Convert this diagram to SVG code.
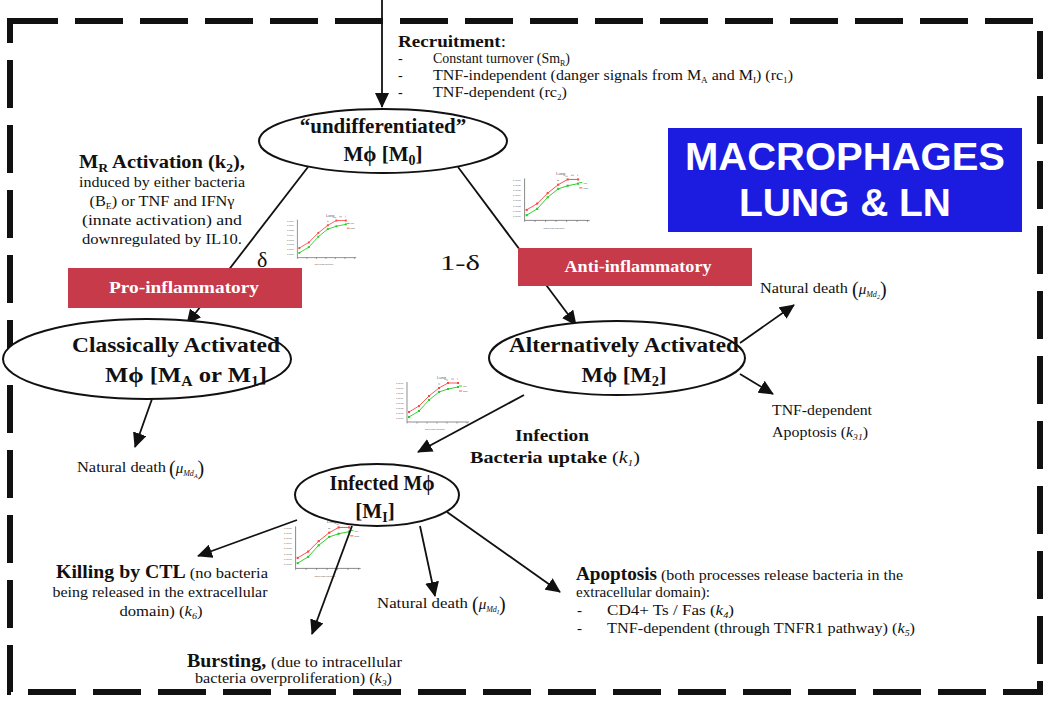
<svg xmlns="http://www.w3.org/2000/svg" xmlns:xlink="http://www.w3.org/1999/xlink" width="1050" height="706" viewBox="0 0 1050 706">
<style>
.s{font-family:"Liberation Serif","Times New Roman",serif;fill:#111}
.b{font-weight:bold}
.i{font-style:italic}
.ell{fill:#fff;stroke:#111;stroke-width:2}
.con{stroke:#111;stroke-width:1.8;fill:none}
.box{fill:#c73a4a}
.boxt{font-family:"Liberation Serif",serif;font-weight:bold;fill:#fff;font-size:16px}
.ct{font-family:"Liberation Sans",Arial,sans-serif;fill:#555}
</style>
<defs>
<marker id="ah" markerUnits="userSpaceOnUse" markerWidth="16" markerHeight="14" refX="14" refY="7" orient="auto">
<path d="M0,0 L15,7 L0,14 Z" fill="#111"/>
</marker>
<g id="chart">
<text class="ct" x="42" y="5" font-size="4">Lung</text>
<g font-size="2.4" class="ct">
<text x="1" y="10">1.0e07</text><text x="1" y="15">1.0e06</text><text x="1" y="20">1.0e05</text><text x="1" y="25">1.0e04</text><text x="1" y="30">1.0e03</text><text x="1" y="35">1.0e02</text><text x="1" y="40">1.0e01</text><text x="1" y="45">1.0e00</text>
<text x="30" y="56">days post infection</text>
<text x="68" y="13">low</text><text x="68" y="18">high</text>
</g>
<path d="M12,8 V48 H74" stroke="#444" stroke-width="0.6" fill="none"/>
<path d="M12,48 v1.5 M22,48 v1.5 M32,48 v1.5 M42,48 v1.5 M52,48 v1.5 M62,48 v1.5 M72,48 v1.5" stroke="#444" stroke-width="0.5"/>
<polyline points="14,38 24,32 34,22 44,14 53,9 63,9" fill="none" stroke="#f44" stroke-width="0.9"/>
<polyline points="14,43 24,37 34,26 44,18 53,15 63,13" fill="none" stroke="#2c2" stroke-width="0.9"/>
<g fill="#2c2"><rect x="13" y="42" width="2" height="2"/><rect x="23" y="36" width="2" height="2"/><rect x="33" y="25" width="2" height="2"/><rect x="43" y="17" width="2" height="2"/><rect x="52" y="14" width="2" height="2"/><rect x="62" y="12" width="2" height="2"/></g>
<g fill="#f44"><rect x="13" y="37" width="2" height="2"/><rect x="23" y="31" width="2" height="2"/><rect x="33" y="21" width="2" height="2"/><rect x="43" y="13" width="2" height="2"/><rect x="52" y="8" width="2" height="2"/><rect x="62" y="8" width="2" height="2"/></g>
<path d="M64,12 h3" stroke="#2c2" stroke-width="0.9"/><path d="M64,17 h3" stroke="#f44" stroke-width="0.9"/>
<path d="M43,10 h2 M51,6 h2 M56,5 h3 M62,5 h1" stroke="#666" stroke-width="0.5"/>
</g>
</defs>
<rect width="1050" height="706" fill="#fff"/>
<rect x="10" y="21" width="1030" height="671" fill="none" stroke="#111" stroke-width="6" stroke-dasharray="48 17"/>

<g id="charts">
<use xlink:href="#chart" transform="translate(286,212) scale(0.95)"/>
<use xlink:href="#chart" transform="translate(512,170) scale(1.05)"/>
<use xlink:href="#chart" transform="translate(395,374) scale(1.0)"/>
<use xlink:href="#chart" transform="translate(283,518) scale(1.05)"/>
</g>

<g id="connectors">
<line class="con" x1="382" y1="0" x2="382" y2="107" marker-end="url(#ah)"/>
<line class="con" x1="308" y1="167" x2="187" y2="324" marker-end="url(#ah)"/>
<line class="con" x1="458" y1="167" x2="576" y2="325" marker-end="url(#ah)"/>
<line class="con" x1="740" y1="343" x2="794" y2="305" marker-end="url(#ah)"/>
<line class="con" x1="740" y1="374" x2="773" y2="394" marker-end="url(#ah)"/>
<line class="con" x1="152" y1="399" x2="135" y2="447" marker-end="url(#ah)"/>
<line class="con" x1="524" y1="395" x2="418" y2="452" marker-end="url(#ah)"/>
<line class="con" x1="297" y1="520" x2="198" y2="556" marker-end="url(#ah)"/>
<line class="con" x1="352" y1="526" x2="312" y2="634" marker-end="url(#ah)"/>
<line class="con" x1="420" y1="526" x2="435" y2="596" marker-end="url(#ah)"/>
<line class="con" x1="447" y1="512" x2="560" y2="592" marker-end="url(#ah)"/>
</g>

<g id="recruitment">
<text class="s b" x="398" y="47" font-size="17" textLength="108" lengthAdjust="spacingAndGlyphs">Recruitment<tspan font-weight="normal">:</tspan></text>
<text class="s" x="398" y="63" font-size="14">-</text>
<text class="s" x="398" y="80" font-size="14">-</text>
<text class="s" x="398" y="97" font-size="14">-</text>
<text class="s" x="433" y="63" font-size="14" textLength="137" lengthAdjust="spacingAndGlyphs">Constant turnover (Sm<tspan font-size="8" dy="3">R</tspan><tspan dy="-3">)</tspan></text>
<text class="s" x="433" y="80" font-size="14" textLength="360" lengthAdjust="spacingAndGlyphs">TNF-independent (danger signals from M<tspan font-size="8" dy="3">A</tspan><tspan dy="-3"> and M</tspan><tspan font-size="8" dy="3">I</tspan><tspan dy="-3">)  (rc</tspan><tspan font-size="8" dy="3">1</tspan><tspan dy="-3">)</tspan></text>
<text class="s" x="433" y="97" font-size="14" textLength="134" lengthAdjust="spacingAndGlyphs">TNF-dependent  (rc<tspan font-size="8" dy="3">2</tspan><tspan dy="-3">)</tspan></text>
</g>

<g id="node-undiff">
<ellipse class="ell" cx="383" cy="141" rx="124" ry="32"/>
<text class="s b" x="383" y="133" font-size="21" text-anchor="middle">“undifferentiated”</text>
<text class="s b" x="383" y="161" font-size="21" text-anchor="middle">Mϕ [M<tspan font-size="14" dy="4">0</tspan><tspan dy="-4">]</tspan></text>
</g>

<g id="title">
<rect x="668" y="128" width="354" height="104" fill="#1c1ce0"/>
<text x="845" y="170" font-family="Liberation Sans,Arial,sans-serif" font-weight="bold" font-size="39" fill="#fff" text-anchor="middle" textLength="320" lengthAdjust="spacingAndGlyphs">MACROPHAGES</text>
<text x="845" y="216" font-family="Liberation Sans,Arial,sans-serif" font-weight="bold" font-size="39" fill="#fff" text-anchor="middle" textLength="212" lengthAdjust="spacingAndGlyphs">LUNG &amp; LN</text>
</g>

<g id="activation-text">
<text class="s b" x="162" y="168" font-size="18" text-anchor="middle" textLength="166" lengthAdjust="spacingAndGlyphs">M<tspan font-size="12" dy="4">R</tspan><tspan dy="-4"> Activation (k</tspan><tspan font-size="12" dy="4">2</tspan><tspan dy="-4">),</tspan></text>
<text class="s" x="162" y="187" font-size="15" text-anchor="middle" textLength="166" lengthAdjust="spacingAndGlyphs">induced by either bacteria</text>
<text class="s" x="162" y="206" font-size="15" text-anchor="middle" textLength="145" lengthAdjust="spacingAndGlyphs">(B<tspan font-size="9" dy="3">E</tspan><tspan dy="-3">)  or TNF and IFNγ</tspan></text>
<text class="s" x="162" y="225" font-size="15" text-anchor="middle" textLength="160" lengthAdjust="spacingAndGlyphs">(innate activation) and</text>
<text class="s" x="162" y="244" font-size="15" text-anchor="middle" textLength="160" lengthAdjust="spacingAndGlyphs">downregulated by IL10.</text>
</g>

<g id="pro">
<rect class="box" x="68" y="268" width="234" height="40"/>
<text class="boxt" x="184" y="293" text-anchor="middle" textLength="150" lengthAdjust="spacingAndGlyphs">Pro-inflammatory</text>
<text class="s" x="257" y="267" font-size="22">δ</text>
</g>
<g id="anti">
<rect class="box" x="518" y="248" width="234" height="38"/>
<text class="boxt" x="638" y="272" text-anchor="middle" textLength="147" lengthAdjust="spacingAndGlyphs">Anti-inflammatory</text>
<text class="s" x="440" y="270" font-size="21" textLength="40" lengthAdjust="spacingAndGlyphs">1-δ</text>
</g>

<g id="node-classical">
<ellipse class="ell" cx="147" cy="359" rx="144" ry="40"/>
<text class="s b" x="176" y="352" font-size="22" text-anchor="middle" textLength="208" lengthAdjust="spacingAndGlyphs">Classically Activated</text>
<text class="s b" x="186" y="382" font-size="22" text-anchor="middle" textLength="162" lengthAdjust="spacingAndGlyphs">Mϕ [M<tspan font-size="14" dy="4">A</tspan><tspan dy="-4"> or M</tspan><tspan font-size="14" dy="4">1</tspan><tspan dy="-4">]</tspan></text>
</g>

<g id="node-alternative">
<ellipse class="ell" cx="617" cy="358" rx="128" ry="37"/>
<text class="s b" x="624" y="352" font-size="22" text-anchor="middle" textLength="230" lengthAdjust="spacingAndGlyphs">Alternatively Activated</text>
<text class="s b" x="624" y="382" font-size="22" text-anchor="middle" textLength="85" lengthAdjust="spacingAndGlyphs">Mϕ [M<tspan font-size="14" dy="4">2</tspan><tspan dy="-4">]</tspan></text>
</g>

<g id="alt-death">
<text class="s" x="760" y="293" font-size="15" textLength="88" lengthAdjust="spacingAndGlyphs">Natural death</text>
<text class="s" x="852" y="296" font-size="20">(<tspan class="i" font-size="15" dy="-2">μ</tspan><tspan class="i" font-size="8" dy="3">Md</tspan><tspan class="i" font-size="6" dy="2">2</tspan><tspan font-size="20" dy="-3">)</tspan></text>
<text class="s" x="772" y="415" font-size="15" textLength="100" lengthAdjust="spacingAndGlyphs">TNF-dependent</text>
<text class="s" x="772" y="437" font-size="15" textLength="96" lengthAdjust="spacingAndGlyphs">Apoptosis (<tspan class="i">k</tspan><tspan class="i" font-size="9" dy="3">31</tspan><tspan dy="-3">)</tspan></text>
</g>

<g id="classical-death">
<text class="s" x="77" y="472" font-size="15" textLength="89" lengthAdjust="spacingAndGlyphs">Natural death</text>
<text class="s" x="169" y="475" font-size="20">(<tspan class="i" font-size="15" dy="-2">μ</tspan><tspan class="i" font-size="8" dy="3">Md</tspan><tspan class="i" font-size="6" dy="2">A</tspan><tspan font-size="20" dy="-3">)</tspan></text>
</g>

<g id="infection">
<text class="s b" x="515" y="441" font-size="16" textLength="74" lengthAdjust="spacingAndGlyphs">Infection</text>
<text class="s b" x="470" y="463" font-size="16" textLength="170" lengthAdjust="spacingAndGlyphs">Bacteria uptake <tspan font-weight="normal">(</tspan><tspan class="i" font-weight="normal">k</tspan><tspan class="i" font-weight="normal" font-size="9" dy="3">1</tspan><tspan font-weight="normal" dy="-3">)</tspan></text>
</g>

<g id="node-infected">
<ellipse class="ell" cx="377" cy="495" rx="82" ry="31"/>
<text class="s b" x="382" y="490" font-size="21" text-anchor="middle" textLength="105" lengthAdjust="spacingAndGlyphs">Infected Mϕ</text>
<text class="s b" x="375" y="518" font-size="21" text-anchor="middle">[M<tspan font-size="14" dy="4">I</tspan><tspan dy="-4">]</tspan></text>
</g>

<g id="killing">
<text class="s" x="56" y="578" font-size="15" textLength="212" lengthAdjust="spacingAndGlyphs"><tspan class="b" font-size="18">Killing by CTL</tspan> (no bacteria</text>
<text class="s" x="160" y="597" font-size="15" text-anchor="middle" textLength="215" lengthAdjust="spacingAndGlyphs">being released in the extracellular</text>
<text class="s" x="161" y="616" font-size="15" text-anchor="middle" textLength="83" lengthAdjust="spacingAndGlyphs">domain) (<tspan class="i">k</tspan><tspan class="i" font-size="9" dy="3">6</tspan><tspan dy="-3">)</tspan></text>
</g>

<g id="infected-death">
<text class="s" x="377" y="608" font-size="15" textLength="91" lengthAdjust="spacingAndGlyphs">Natural death</text>
<text class="s" x="472" y="611" font-size="20">(<tspan class="i" font-size="15" dy="-2">μ</tspan><tspan class="i" font-size="8" dy="3">Md</tspan><tspan class="i" font-size="6" dy="2">I</tspan><tspan font-size="20" dy="-3">)</tspan></text>
</g>

<g id="apoptosis">
<text class="s" x="576" y="580" font-size="15" textLength="327" lengthAdjust="spacingAndGlyphs"><tspan class="b" font-size="18">Apoptosis</tspan> (both processes release bacteria in the</text>
<text class="s" x="576" y="597" font-size="15" textLength="134" lengthAdjust="spacingAndGlyphs">extracellular domain):</text>
<text class="s" x="577" y="615" font-size="15">-</text>
<text class="s" x="577" y="633" font-size="15">-</text>
<text class="s" x="607" y="615" font-size="15" textLength="127" lengthAdjust="spacingAndGlyphs">CD4+ Ts / Fas  (<tspan class="i">k</tspan><tspan class="i" font-size="9" dy="3">4</tspan><tspan dy="-3">)</tspan></text>
<text class="s" x="607" y="633" font-size="15" textLength="308" lengthAdjust="spacingAndGlyphs">TNF-dependent (through TNFR1 pathway)  (<tspan class="i">k</tspan><tspan class="i" font-size="9" dy="3">5</tspan><tspan dy="-3">)</tspan></text>
</g>

<g id="bursting">
<text class="s" x="187" y="667" font-size="15" textLength="215" lengthAdjust="spacingAndGlyphs"><tspan class="b" font-size="18">Bursting, </tspan>(due to intracellular</text>
<text class="s" x="195" y="683" font-size="15" textLength="197" lengthAdjust="spacingAndGlyphs">bacteria overproliferation)  (<tspan class="i">k</tspan><tspan class="i" font-size="9" dy="3">3</tspan><tspan dy="-3">)</tspan></text>
</g>
</svg>
